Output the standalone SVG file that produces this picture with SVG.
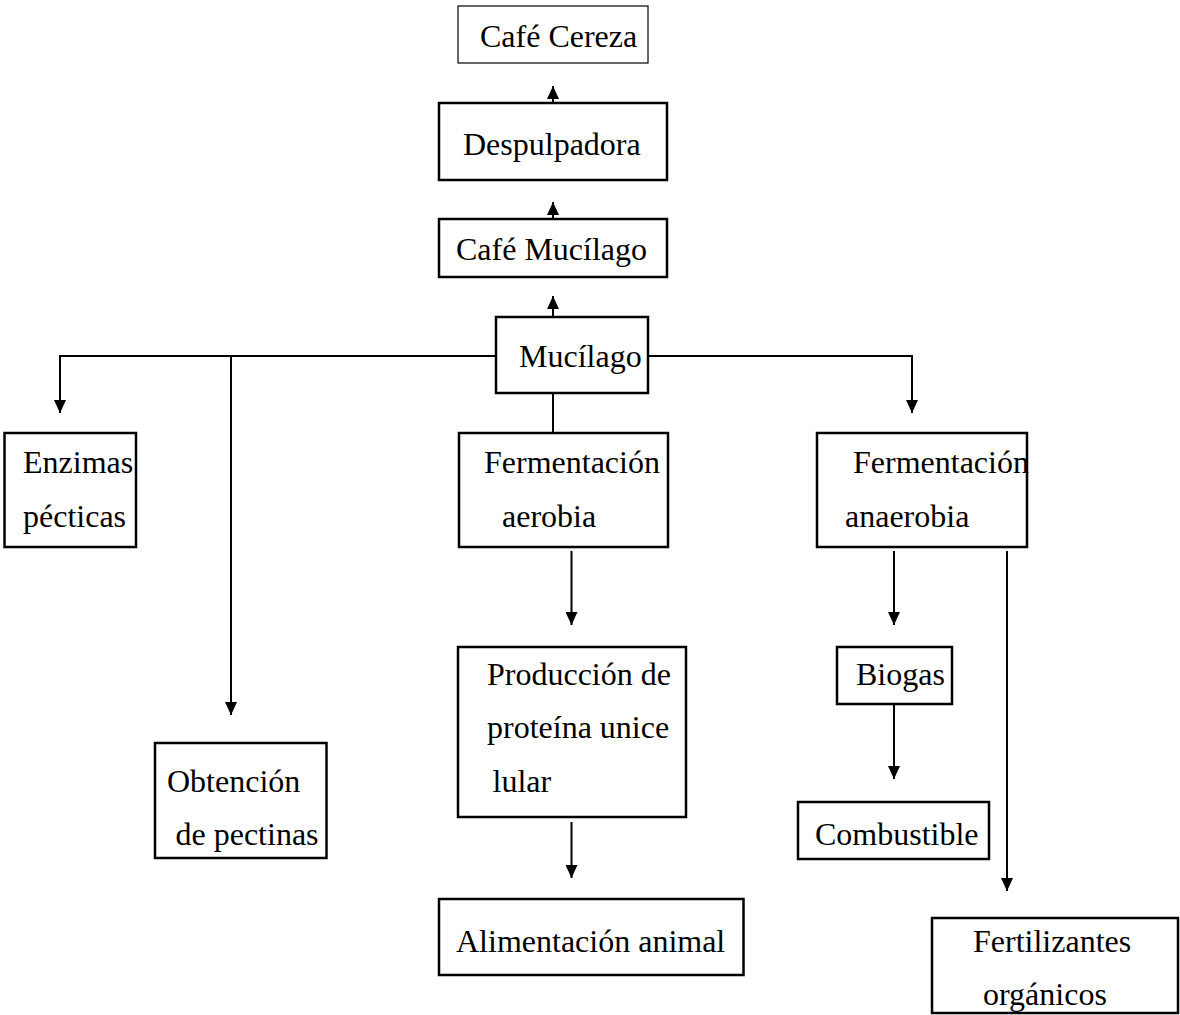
<svg xmlns="http://www.w3.org/2000/svg" width="1180" height="1015" viewBox="0 0 1180 1015">
<style>
.box{fill:#fff;stroke:#000;stroke-width:2.5}
.thin{stroke-width:1.2}
.t{font-family:"Liberation Serif","Times New Roman",serif;font-size:32px;fill:#000}
.c{fill:none;stroke:#000;stroke-width:2}
</style>
<defs>
<marker id="ah" viewBox="0 0 13 12" refX="13" refY="6" markerWidth="13" markerHeight="12" markerUnits="userSpaceOnUse" orient="auto">
<path d="M0,0 L13,6 L0,12 z" fill="#000"/>
</marker>
</defs>
<rect width="1180" height="1015" fill="#fff"/>
<g id="connectors">
<path class="c" d="M553,103 V86" marker-end="url(#ah)"/>
<path class="c" d="M553,219 V202" marker-end="url(#ah)"/>
<path class="c" d="M553,317 V296" marker-end="url(#ah)"/>
<path class="c" d="M496,356 H60 V413" marker-end="url(#ah)"/>
<path class="c" d="M231,356 V715" marker-end="url(#ah)"/>
<path class="c" d="M648,356 H912 V413" marker-end="url(#ah)"/>
<path class="c" d="M553,393 V433"/>
<path class="c" d="M571.5,551 V625" marker-end="url(#ah)"/>
<path class="c" d="M571.5,822 V878" marker-end="url(#ah)"/>
<path class="c" d="M894,551 V625" marker-end="url(#ah)"/>
<path class="c" d="M894,704 V779" marker-end="url(#ah)"/>
<path class="c" d="M1007,551 V891" marker-end="url(#ah)"/>
</g>
<g id="cafe-cereza">
<rect class="box thin" x="458" y="6" width="190" height="57"/>
<text class="t" x="480" y="47">Café Cereza</text>
</g>
<g id="despulpadora">
<rect class="box" x="439" y="103" width="228" height="77"/>
<text class="t" x="463" y="155">Despulpadora</text>
</g>
<g id="cafe-mucilago">
<rect class="box" x="439" y="219" width="228" height="58"/>
<text class="t" x="456" y="260">Café Mucílago</text>
</g>
<g id="mucilago">
<rect class="box" x="496" y="317" width="152" height="76"/>
<text class="t" x="519" y="367">Mucílago</text>
</g>
<g id="enzimas">
<rect class="box" x="4.5" y="433" width="131.5" height="114"/>
<text class="t" x="23" y="473">Enzimas</text>
<text class="t" x="23" y="527">pécticas</text>
</g>
<g id="ferm-aerobia">
<rect class="box" x="459" y="433" width="209" height="114"/>
<text class="t" x="484" y="473">Fermentación</text>
<text class="t" x="502" y="527">aerobia</text>
</g>
<g id="ferm-anaerobia">
<rect class="box" x="817" y="433" width="210" height="114"/>
<text class="t" x="853" y="473">Fermentación</text>
<text class="t" x="845" y="527">anaerobia</text>
</g>
<g id="obtencion">
<rect class="box" x="155" y="743" width="171.5" height="115"/>
<text class="t" x="167" y="792">Obtención</text>
<text class="t" x="175.5" y="845">de pectinas</text>
</g>
<g id="produccion">
<rect class="box" x="458" y="647" width="228" height="170"/>
<text class="t" x="487" y="685">Producción de</text>
<text class="t" x="487" y="738">proteína unice</text>
<text class="t" x="492.5" y="792">lular</text>
</g>
<g id="alimentacion">
<rect class="box" x="439" y="899" width="304.5" height="76"/>
<text class="t" x="456" y="952">Alimentación animal</text>
</g>
<g id="biogas">
<rect class="box" x="837" y="647" width="115" height="57"/>
<text class="t" x="856" y="685">Biogas</text>
</g>
<g id="combustible">
<rect class="box" x="798" y="802" width="191" height="57"/>
<text class="t" x="815" y="845">Combustible</text>
</g>
<g id="fertilizantes">
<rect class="box" x="932" y="918" width="246" height="95"/>
<text class="t" x="973" y="952">Fertilizantes</text>
<text class="t" x="983" y="1005">orgánicos</text>
</g>
</svg>
